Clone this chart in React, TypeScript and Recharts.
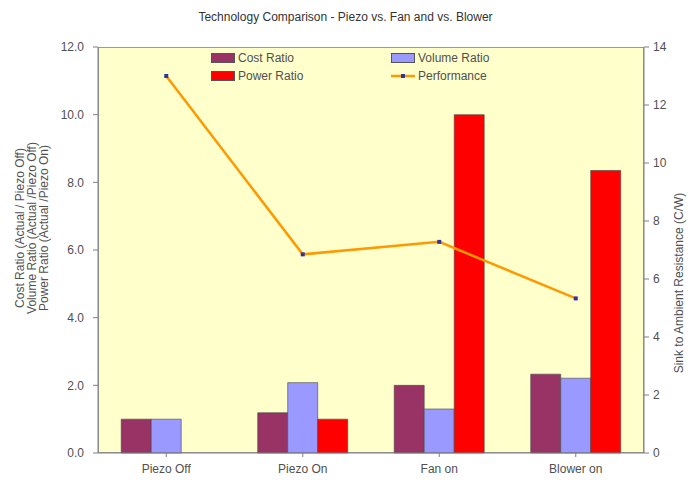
import { ComposedChart, Bar, Line, XAxis, YAxis } from 'recharts';

const categories = ['Piezo Off', 'Piezo On', 'Fan on', 'Blower on'];
const costRatio = [1.0, 1.19, 2.0, 2.33];
const volumeRatio = [1.0, 2.08, 1.3, 2.21];
const powerRatio = [0, 1.0, 10.0, 8.35];
const performance = [13.0, 6.85, 7.28, 5.33];
const leftTicks = [0, 2, 4, 6, 8, 10, 12];
const rightTicks = [0, 2, 4, 6, 8, 10, 12, 14];

const data = categories.map((name, i) => ({
  name,
  cost: costRatio[i],
  volume: volumeRatio[i],
  power: powerRatio[i],
  perf: performance[i],
}));

const FONT = '"Liberation Sans", Arial, sans-serif';
const TXT = '#505050';

const LegendBox = () => {
  const item = (label: string, icon: JSX.Element) => (
    <div style={{ display: 'flex', alignItems: 'center', height: 18 }}>
      {icon}
      <span style={{ marginLeft: 3 }}>{label}</span>
    </div>
  );
  const sq = (c: string) => (
    <span style={{ display: 'inline-block', width: 22, height: 8, background: c, border: '1px solid #555' }} />
  );
  const ln = (
    <svg width={24} height={10}>
      <line x1={0} y1={5} x2={24} y2={5} stroke="#FF9900" strokeWidth={2.5} />
      <rect x={10} y={3} width={4} height={4} fill="#333399" />
    </svg>
  );
  return (
    <div style={{ display: 'grid', gridTemplateColumns: '180px 120px', fontFamily: FONT, fontSize: 12, color: TXT }}>
      {item('Cost Ratio', sq('#993366'))}
      {item('Volume Ratio', sq('#9999FF'))}
      {item('Power Ratio', sq('#FF0000'))}
      {item('Performance', ln)}
    </div>
  );
};

const PerfDot = ({ cx, cy }: { cx?: number; cy?: number }) => {
  if (cx == null || cy == null) return null;
  return <rect x={cx - 2} y={cy - 2} width={4} height={4} fill="#333399" />;
};

const LeftLabel = () => (
  <g fontFamily={FONT} fontSize={12} fill={TXT}>
    {['Cost Ratio (Actual / Piezo Off)', 'Volume Ratio (Actual /Piezo Off)', 'Power Ratio (Actual /Piezo On)'].map((t, i) => (
      <text key={t} x={0} y={0} textAnchor="middle" transform={`translate(${24 + i * 12},228) rotate(-90)`}>
        {t}
      </text>
    ))}
  </g>
);

const RightLabel = () => (
  <text x={0} y={0} textAnchor="middle" fontFamily={FONT} fontSize={12} fill={TXT}
    transform="translate(683,283) rotate(-90)">
    Sink to Ambient Resistance (C/W)
  </text>
);

export default function App() {
  return (
    <div style={{ position: 'absolute', left: 0, top: 0, width: 691, height: 480, background: '#fff' }}>
      <div style={{ position: 'absolute', left: 0, top: 10, width: 691, textAlign: 'center', fontFamily: FONT, fontSize: 12, color: '#333' }}>
        Technology Comparison - Piezo vs. Fan and vs. Blower
      </div>
      <div style={{ position: 'absolute', left: 98, top: 47, width: 546, height: 406, background: '#FFFFCC', border: '1px solid #999', boxSizing: 'border-box' }} />
      <div style={{ position: 'absolute', left: 0, top: 0 }}>
        <ComposedChart width={691} height={480} data={data} margin={{ top: 47, right: 7, left: 38, bottom: 7 }}
          barCategoryGap="17%" barGap={0}>
          <XAxis dataKey="name" interval={0} stroke="#808080" tickLine={{ stroke: '#808080' }}
            tick={{ fontFamily: FONT, fontSize: 12, fill: TXT }} height={20} tickSize={4} tickMargin={7} />
          <YAxis yAxisId="left" domain={[0, 12]} ticks={leftTicks} width={60} stroke="#808080"
            tickFormatter={(v: number) => v.toFixed(1)} tick={{ fontFamily: FONT, fontSize: 12, fill: TXT }}
            tickSize={5} tickMargin={9} label={<LeftLabel />} />
          <YAxis yAxisId="right" orientation="right" domain={[0, 14]} ticks={rightTicks} width={40} stroke="#808080"
            tick={{ fontFamily: FONT, fontSize: 12, fill: TXT }} tickSize={5} tickMargin={4} label={<RightLabel />} />
          <Bar yAxisId="left" dataKey="cost" fill="#993366" stroke="#444" strokeWidth={0.6} isAnimationActive={false} />
          <Bar yAxisId="left" dataKey="volume" fill="#9999FF" stroke="#444" strokeWidth={0.6} isAnimationActive={false} />
          <Bar yAxisId="left" dataKey="power" fill="#FF0000" stroke="#444" strokeWidth={0.6} isAnimationActive={false} />
          <Line yAxisId="right" dataKey="perf" stroke="#FF9900" strokeWidth={2.5} type="linear"
            dot={<PerfDot />} activeDot={false} isAnimationActive={false} />
        </ComposedChart>
      </div>
      <div style={{ position: 'absolute', left: 211, top: 49 }}>
        <LegendBox />
      </div>
    </div>
  );
}
